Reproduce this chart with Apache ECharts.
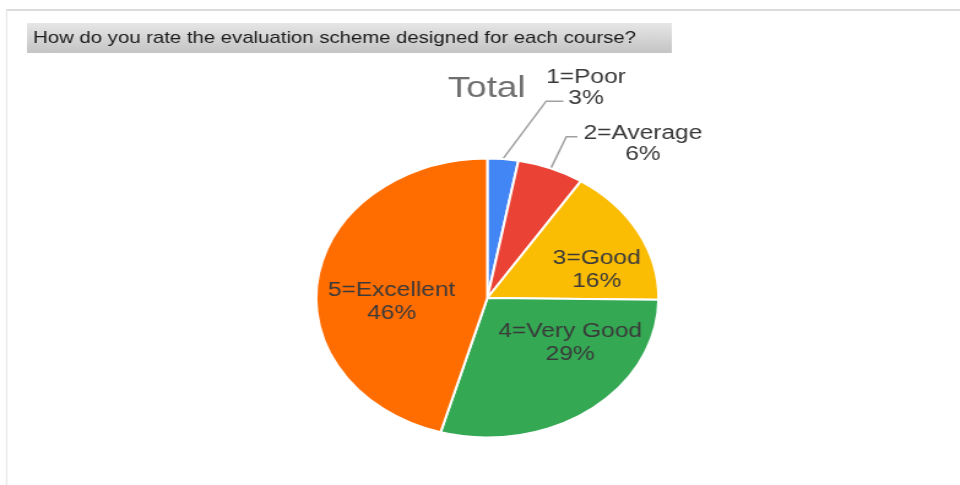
<!DOCTYPE html>
<html>
<head>
<meta charset="utf-8">
<script src="https://cdn.jsdelivr.net/npm/echarts@6/dist/echarts.min.js"></script>
<style>
  html, body { margin: 0; padding: 0; background: #fff; overflow: hidden; }
  /* the source picture is stretched sideways, so the chart is drawn narrow and widened */
  #chart { width: 783px; height: 485px; transform: scaleX(1.226); transform-origin: 0 0; }
</style>
</head>
<body>
<div id="chart"></div>
<script>
var questionText = 'How do you rate the evaluation scheme designed for each course?'
var chartTitle = 'Total'
var categories = ['1=Poor', '2=Average', '3=Good', '4=Very Good', '5=Excellent']
// shares (labels round to 3/6/16/29/46 %)
var shares = [2.9, 6.3, 16.0, 29.2, 45.6]
var sliceColors = ['#4285f4', '#ea4335', '#fbbc04', '#34a853', '#ff6d01']

// label placement tweaks (outside leader lines / nudges for the inside ones)
var outsideLabel = {
  '1=Poor': { length: 58, length2: 25, padding: [0, 0, 26, 0] },
  '2=Average': { length: 34, length2: 9, padding: [15, 0, 0, 0] }
}
var insideNudge = {
  '3=Good': [25, 6],
  '4=Very Good': [24, -13],
  '5=Excellent': [-6, 14]
}

var pieData = categories.map(function (name, i) {
  var item = { name: name, value: shares[i], itemStyle: { color: sliceColors[i] } }
  var o = outsideLabel[name]
  if (o) {
    item.label = { position: 'outside', padding: o.padding }
    item.labelLine = { show: true, length: o.length, length2: o.length2 }
  } else {
    item.label = { position: 'inside', rich: { t: { lineHeight: 23 } } }
    item.labelLine = { show: false }
  }
  return item
})

var chart = echarts.init(document.getElementById('chart'))
var option = {
  animation: false,
  backgroundColor: '#fff',
  graphic: [
    { type: 'line', shape: { x1: 5, y1: 10, x2: 783, y2: 10 }, style: { stroke: '#dcdcdc', lineWidth: 2 } },
    { type: 'line', shape: { x1: 5.3, y1: 10, x2: 5.3, y2: 485 }, style: { stroke: '#e3e3e3', lineWidth: 1 } },
    {
      type: 'rect',
      shape: { x: 22, y: 23, width: 526, height: 30 },
      style: {
        fill: new echarts.graphic.LinearGradient(0, 0, 0, 1, [
          { offset: 0, color: '#e6e6e6' },
          { offset: 1, color: '#c4c4c4' }
        ])
      }
    },
    {
      type: 'text',
      x: 27, y: 38,
      style: {
        text: questionText,
        fill: '#1a1a1a',
        font: '16.6px "Liberation Sans", Arial, sans-serif',
        textVerticalAlign: 'middle'
      }
    },
    {
      type: 'text',
      x: 397, y: 89,
      style: {
        text: chartTitle,
        fill: '#6f6f6f',
        font: '30px "Liberation Sans", Arial, sans-serif',
        textAlign: 'center',
        textVerticalAlign: 'middle'
      }
    }
  ],
  series: [
    {
      type: 'pie',
      center: [397.5, 298],
      radius: 139.6,
      startAngle: 90,
      clockwise: true,
      avoidLabelOverlap: false,
      silent: true,
      itemStyle: { borderColor: '#fff', borderWidth: 2 },
      label: {
        show: true,
        fontFamily: '"Liberation Sans", Arial, sans-serif',
        fontSize: 20,
        color: '#3a3a3a',
        distanceToLabelLine: 5,
        formatter: function (p) {
          return '{t|' + p.name + '}\n{t|' + Math.round(p.percent) + '%}'
        },
        rich: {
          t: { align: 'center', fontSize: 20, lineHeight: 21, color: '#3a3a3a', fontFamily: '"Liberation Sans", Arial, sans-serif' }
        }
      },
      labelLine: { lineStyle: { color: '#a0a0a0', width: 1.5 } },
      labelLayout: function (p) {
        var name = categories[p.dataIndex]
        var n = insideNudge[name]
        if (n) return { dx: n[0], dy: n[1] }
        if (name === '1=Poor' && p.labelLinePoints) {
          // bend the leader towards the label like the source does
          var pts = p.labelLinePoints
          var y = pts[2][1]
          return {
            labelLinePoints: [pts[0], [p.labelRect.x, y], [p.labelRect.x + 14, y]]
          }
        }
        return {}
      },
      data: pieData
    }
  ]
}
chart.setOption(option)
</script>
</body>
</html>
